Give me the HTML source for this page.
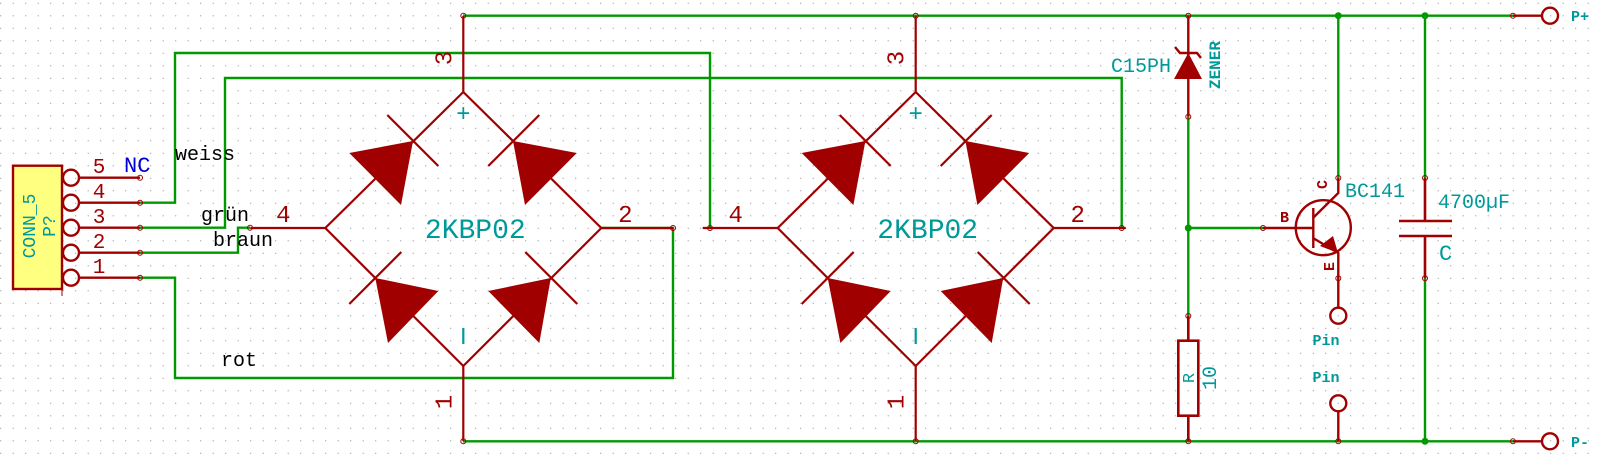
<!DOCTYPE html>
<html><head><meta charset="utf-8"><style>
html,body{margin:0;padding:0;background:#fff;}
svg{display:block;}
text{font-family:"Liberation Mono","DejaVu Sans Mono",monospace;}
</style></head><body>
<svg width="1599" height="456" viewBox="0 0 1599 456" xmlns="http://www.w3.org/2000/svg">
<defs>
<pattern id="g" x="0.2" y="2.8" width="12.5" height="12.5" patternUnits="userSpaceOnUse">
<rect x="0" y="0" width="1" height="1" fill="#8a8a8a"/>
</pattern>
<g id="br">
<path d="M0,-136 L138,0 L0,138 L-138,0 Z" fill="none" stroke="#a00000" stroke-width="2.2"/>
<polygon points="-114,-75 -50.3,-87 -62.3,-23" fill="#a00000"/>
<line x1="-76" y1="-113" x2="-25" y2="-62" stroke="#a00000" stroke-width="2.2"/>
<polygon points="49.7,-87 113.5,-75 61.7,-23" fill="#a00000"/>
<line x1="25" y1="-62" x2="76" y2="-113" stroke="#a00000" stroke-width="2.2"/>
<polygon points="-88,50 -25,63 -75.3,115" fill="#a00000"/>
<line x1="-114" y1="76" x2="-62" y2="24" stroke="#a00000" stroke-width="2.2"/>
<polygon points="25,63 87.5,50 76,115" fill="#a00000"/>
<line x1="62" y1="24" x2="114" y2="76" stroke="#a00000" stroke-width="2.2"/>
<text x="0" y="-107" fill="#009999" font-size="24" text-anchor="middle">+</text>
<line x1="0" y1="100" x2="0" y2="116" stroke="#009999" stroke-width="2.2"/>
<text x="12" y="10" fill="#009999" font-size="28" text-anchor="middle">2KBP02</text>
<line x1="0" y1="-136" x2="0" y2="-212" stroke="#a00000" stroke-width="2.2"/>
<line x1="0" y1="138" x2="0" y2="213" stroke="#a00000" stroke-width="2.2"/>
<line x1="-138" y1="0" x2="-213" y2="0" stroke="#a00000" stroke-width="2.2"/>
<line x1="138" y1="0" x2="210" y2="0" stroke="#a00000" stroke-width="2.2"/>
<text x="-20" y="-170" fill="#a00000" font-size="24" text-anchor="middle" transform="rotate(-90 -20 -170)" dy="8">3</text>
<text x="-20" y="174" fill="#a00000" font-size="24" text-anchor="middle" transform="rotate(-90 -20 174)" dy="8">1</text>
<text x="-180" y="-6" fill="#a00000" font-size="24" text-anchor="middle">4</text>
<text x="162" y="-6" fill="#a00000" font-size="24" text-anchor="middle">2</text>
</g>
</defs>
<rect width="1599" height="456" fill="url(#g)"/>

<g stroke="#009900" stroke-width="2.4" fill="none">
<line x1="463" y1="15.7" x2="1513" y2="15.7"/>
<line x1="463" y1="441.3" x2="1513" y2="441.3"/>
<polyline points="140,202.7 175,202.7 175,53 710,53 710,228"/>
<polyline points="140,227.7 225,227.7 225,78 1121.7,78 1121.7,228"/>
<polyline points="140,252.7 238,252.7 238,227.7 250,227.7"/>
<polyline points="140,277.7 175,277.7 175,378 673,378 673,228 600,228"/>
<line x1="1188.3" y1="116.7" x2="1188.3" y2="316"/>
<line x1="1188.3" y1="228" x2="1263" y2="228"/>
<line x1="1338.3" y1="15.7" x2="1338.3" y2="178"/>
<line x1="1425" y1="15.7" x2="1425" y2="178"/>
<line x1="1425" y1="278.3" x2="1425" y2="441.3"/>
</g>
<g fill="#009900">
<circle cx="1338.3" cy="15.7" r="3.5"/>
<circle cx="1425" cy="15.7" r="3.5"/>
<circle cx="1188.3" cy="228" r="3.5"/>
<circle cx="1425" cy="441.3" r="3.5"/>
</g>

<use href="#br" x="463.3" y="228"/>
<use href="#br" x="915.7" y="228"/>

<rect x="13" y="165.7" width="49" height="123.3" fill="#ffff80" stroke="#a00000" stroke-width="2.4"/>
<line x1="62" y1="289" x2="62" y2="296" stroke="#a00000" stroke-width="1"/>
<g stroke="#a00000" stroke-width="2.4" fill="none">
<circle cx="71" cy="177.7" r="8"/><circle cx="71" cy="202.7" r="8"/><circle cx="71" cy="227.7" r="8"/><circle cx="71" cy="252.7" r="8"/><circle cx="71" cy="277.7" r="8"/>
<line x1="79" y1="177.7" x2="140" y2="177.7"/><line x1="79" y1="202.7" x2="140" y2="202.7"/><line x1="79" y1="227.7" x2="140" y2="227.7"/><line x1="79" y1="252.7" x2="140" y2="252.7"/><line x1="79" y1="277.7" x2="140" y2="277.7"/>
</g>
<g fill="#a00000" font-size="21" text-anchor="middle">
<text x="99" y="173">5</text><text x="99" y="198">4</text><text x="99" y="223">3</text><text x="99" y="248">2</text><text x="99" y="273">1</text>
</g>
<text x="124" y="172" fill="#0000dd" font-size="22">NC</text>
<text x="35" y="226" fill="#009999" font-size="18" text-anchor="middle" transform="rotate(-90 35 226)">CONN_5</text>
<text x="55" y="226" fill="#009999" font-size="18" text-anchor="middle" transform="rotate(-90 55 226)">P?</text>
<g fill="#000" font-size="20">
<text x="175" y="160">weiss</text>
<text x="201" y="221">grün</text>
<text x="213" y="246">braun</text>
<text x="221" y="366">rot</text>
</g>

<g stroke="#a00000" stroke-width="2.4" fill="none">
<line x1="1188.3" y1="15.7" x2="1188.3" y2="116.7"/>
<polyline points="1175,47 1180,53 1197,53 1201,58"/>
</g>
<polygon points="1174,79 1202,79 1188.3,53" fill="#a00000"/>
<text x="1111" y="72" fill="#009999" font-size="20">C15PH</text>
<text x="1215" y="65" fill="#009999" font-size="16" font-weight="bold" text-anchor="middle" transform="rotate(-90 1215 65)" dy="5">ZENER</text>

<g stroke="#a00000" stroke-width="2.4" fill="none">
<line x1="1263" y1="228" x2="1313" y2="228"/>
<circle cx="1323.3" cy="227.7" r="27.5"/>
<line x1="1313.3" y1="208" x2="1313.3" y2="248"/>
<polyline points="1313,218 1338.3,193 1338.3,178"/>
<polyline points="1313,238 1338.3,253 1338.3,307.7"/>
<circle cx="1338.3" cy="315.7" r="8"/>
<circle cx="1338.3" cy="403.3" r="8"/>
<line x1="1338.3" y1="411.3" x2="1338.3" y2="441.3"/>
</g>
<polygon points="1320,246 1333,236 1338,253" fill="#a00000"/>
<text x="1280" y="222" fill="#a00000" font-size="15" font-weight="bold">B</text>
<text x="1327" y="189" fill="#a00000" font-size="15" font-weight="bold" transform="rotate(-90 1327 189)">C</text>
<text x="1334" y="271" fill="#a00000" font-size="15" font-weight="bold" transform="rotate(-90 1334 271)">E</text>
<text x="1345" y="197" fill="#009999" font-size="20">BC141</text>
<text x="1326" y="345" fill="#009999" font-size="15" font-weight="bold" text-anchor="middle">Pin</text>
<text x="1326" y="382" fill="#009999" font-size="15" font-weight="bold" text-anchor="middle">Pin</text>

<g stroke="#a00000" stroke-width="2.6" fill="none">
<line x1="1425" y1="178" x2="1425" y2="221"/>
<line x1="1399" y1="221" x2="1452" y2="221"/>
<line x1="1399" y1="236" x2="1452" y2="236"/>
<line x1="1425" y1="236" x2="1425" y2="278.3"/>
</g>
<text x="1438" y="208" fill="#009999" font-size="20">4700µF</text>
<text x="1439" y="260" fill="#009999" font-size="22">C</text>

<g stroke="#a00000" stroke-width="2.6" fill="none">
<line x1="1188.3" y1="316" x2="1188.3" y2="340.7"/>
<rect x="1178.3" y="340.7" width="20" height="75"/>
<line x1="1188.3" y1="415.7" x2="1188.3" y2="441.3"/>
</g>
<text x="1188" y="378" fill="#009999" font-size="17" text-anchor="middle" transform="rotate(-90 1188 378)" dy="6">R</text>
<text x="1210" y="378" fill="#009999" font-size="20" text-anchor="middle" transform="rotate(-90 1210 378)" dy="6">10</text>

<g stroke="#a00000" stroke-width="2.4" fill="none">
<line x1="1513" y1="15.7" x2="1542" y2="15.7"/>
<circle cx="1550" cy="15.7" r="8"/>
<line x1="1513" y1="441.3" x2="1542" y2="441.3"/>
<circle cx="1550" cy="441.3" r="8"/>
</g>
<text x="1571" y="21" fill="#009999" font-size="15" font-weight="bold">P+</text>
<text x="1571" y="447" fill="#009999" font-size="15" font-weight="bold">P-</text>

<g stroke="#a00000" stroke-width="1" fill="none">
<circle cx="140" cy="177.7" r="2.5"/><circle cx="140" cy="202.7" r="2.5"/><circle cx="140" cy="227.7" r="2.5"/><circle cx="140" cy="252.7" r="2.5"/><circle cx="140" cy="277.7" r="2.5"/>
<circle cx="250" cy="227.7" r="2.5"/><circle cx="673" cy="228" r="2.5"/><circle cx="710" cy="228" r="2.5"/><circle cx="1121.7" cy="228" r="2.5"/>
<circle cx="463.3" cy="15.7" r="2.5"/><circle cx="463.3" cy="441.3" r="2.5"/><circle cx="915.7" cy="15.7" r="2.5"/><circle cx="915.7" cy="441.3" r="2.5"/>
<circle cx="1188.3" cy="15.7" r="2.5"/><circle cx="1188.3" cy="116.7" r="2.5"/><circle cx="1263" cy="228" r="2.5"/>
<circle cx="1338.3" cy="178" r="2.5"/><circle cx="1338.3" cy="278.3" r="2.5"/><circle cx="1425" cy="178" r="2.5"/><circle cx="1425" cy="278.3" r="2.5"/>
<circle cx="1188.3" cy="316" r="2.5"/><circle cx="1188.3" cy="441.3" r="2.5"/><circle cx="1338.3" cy="441.3" r="2.5"/>
<circle cx="1513" cy="15.7" r="2.5"/><circle cx="1513" cy="441.3" r="2.5"/>
</g>
</svg>
</body></html>
